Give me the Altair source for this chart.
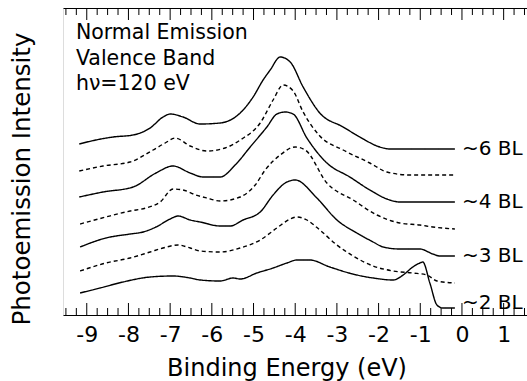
import altair as alt
import pandas as pd

FONT = "DejaVu Sans"

# ---- data (binding energy in eV, intensity in arbitrary units, offset per curve)
c1_e = [-9.18, -8.78, -8.37, -7.89, -7.48, -7.17, -7.00, -6.69, -6.28, -5.80, -5.32, -5.01, -4.77, -4.60, -4.36, -4.12, -3.81, -3.41, -2.85, -2.45, -1.97, -1.73, -0.17]
c1_i = [171, 175, 178, 180, 187, 198, 201, 198, 191, 192, 202, 218, 235, 245, 258, 253, 228, 202, 188, 178, 168, 166, 166]

c2_e = [-9.18, -8.61, -7.96, -7.41, -7.12, -6.88, -6.52, -6.12, -5.68, -5.32, -4.84, -4.53, -4.29, -4.05, -3.81, -3.41, -2.85, -2.21, -1.80, -1.25, -0.17]
c2_i = [144, 149, 153, 165, 172, 177, 169, 164, 167, 175, 192, 215, 230, 224, 203, 179, 165, 152, 143, 140, 140]

c3_e = [-9.18, -8.61, -7.89, -7.34, -6.93, -6.52, -6.21, -5.80, -5.44, -5.08, -4.68, -4.44, -4.24, -4.05, -3.72, -3.24, -2.69, -2.21, -1.80, -1.49, -0.17]
c3_i = [118, 123, 128, 142, 149, 142, 138, 138, 150, 168, 188, 201, 203, 201, 177, 152, 138, 125, 116, 113, 113]

c4_e = [-9.16, -8.54, -7.96, -7.58, -7.24, -6.93, -6.69, -6.38, -6.12, -5.80, -5.32, -4.96, -4.72, -4.36, -4.00, -3.76, -3.24, -2.61, -2.04, -1.49, -1.01, -0.70, -0.17]
c4_i = [91, 98, 104, 107, 113, 126, 125, 120, 117, 114, 118, 130, 145, 160, 168, 165, 132, 115, 100, 92, 90, 88, 86]

c5_e = [-9.16, -8.54, -7.96, -7.65, -7.34, -7.00, -6.81, -6.52, -6.28, -5.80, -5.56, -5.25, -4.84, -4.53, -4.24, -4.00, -3.48, -3.00, -2.52, -2.13, -1.89, -1.49, -1.01, -0.70, -0.53, -0.17]
c5_i = [68, 77, 81, 83, 88, 96, 99, 95, 93, 89, 89, 95, 103, 120, 132, 135, 117, 95, 82, 73, 68, 66, 66, 61, 59, 59]

c6_e = [-9.16, -8.54, -7.96, -7.48, -7.17, -6.81, -6.52, -6.28, -5.80, -5.32, -4.84, -4.44, -4.12, -3.96, -3.72, -3.41, -3.00, -2.61, -2.13, -1.65, -1.18, -0.84, -0.60, -0.17]
c6_i = [44, 52, 57, 63, 67, 70, 67, 64, 63, 67, 75, 87, 96, 98, 95, 85, 70, 59, 49, 44, 42, 40, 34, 32]

c7_e = [-9.16, -8.68, -8.13, -7.48, -6.93, -6.52, -6.28, -5.80, -5.49, -5.32, -4.92, -4.53, -4.20, -3.96, -3.65, -3.17, -2.52, -2.13, -1.65, -1.41, -1.18, -1.01, -0.94, -0.77, -0.60, -0.46, -0.17]
c7_i = [22, 27, 33, 38, 39, 37, 35, 34, 37, 36, 42, 47, 52, 55, 55, 48, 40, 37, 35, 40, 48, 52, 53, 32, 10, 7, 7]

curve_names = ["c1", "c2", "c3", "c4", "c5", "c6", "c7"]
curve_styles = ["solid", "dashed", "solid", "dashed", "solid", "dashed", "solid"]

bl_labels = ["~6 BL", "~4 BL", "~3 BL", "~2 BL"]
bl_label_e = [0.0, 0.0, 0.0, 0.0]
bl_label_i = [166, 113, 59, 12]

note_lines = ["Normal Emission", "Valence Band", "hν=120 eV"]
note_e = [-9.26, -9.26, -9.26]
note_i = [276, 250, 225]

y_title = ["Photoemission Intensity"]

major_ticks = [-9, -8, -7, -6, -5, -4, -3, -2, -1, 0, 1]
minor_ticks = [m / 4 for m in range(-38, 7) if m % 4 != 0]

# ---- tables
rows = []
for name, style, es, vs in zip(curve_names, curve_styles,
                               [c1_e, c2_e, c3_e, c4_e, c5_e, c6_e, c7_e],
                               [c1_i, c2_i, c3_i, c4_i, c5_i, c6_i, c7_i]):
    for e, v in zip(es, vs):
        rows.append({"curve": name, "style": style, "energy": e, "intensity": v})
df = pd.DataFrame(rows)

df_bl = pd.DataFrame({"label": bl_labels, "energy": bl_label_e, "intensity": bl_label_i})
df_note = pd.DataFrame({"label": note_lines, "energy": note_e, "intensity": note_i})
df_major = pd.DataFrame({"t": major_ticks})
df_minor = pd.DataFrame({"t": minor_ticks})
df_ytitle = pd.DataFrame({"label": y_title})

W, H = 464, 307
xscale = alt.Scale(domain=[-9.57, 1.56], nice=False, zero=False)
yscale = alt.Scale(domain=[0, 307], nice=False, zero=False)

x_bottom_axis = alt.Axis(
    orient="bottom", values=major_ticks, labelExpr="'' + datum.value",
    ticks=False, tickSize=0, grid=False, labelPadding=9, labelFontSize=22,
    labelFont=FONT, labelColor="black", domainColor="black", domainWidth=1,
    title="Binding Energy (eV)", titleFont=FONT, titleFontSize=24,
    titleFontWeight="normal", titleColor="black", titleX=223.5, titleY=60,
    titleBaseline="alphabetic", titleAlign="center", labelFlush=False,
)
x_top_axis = alt.Axis(orient="top", labels=False, ticks=False, grid=False, title=None,
                      domainColor="black", domainWidth=1)
y_axis = alt.Axis(
    orient="left", labels=False, ticks=False, tickSize=0, grid=False,
    domainColor="black", domainWidth=1, title=None,
)

lines = alt.Chart(df).mark_line(color="black", strokeWidth=1.4, interpolate="monotone").encode(
    x=alt.X("energy:Q", scale=xscale, axis=x_bottom_axis),
    y=alt.Y("intensity:Q", scale=yscale, axis=y_axis),
    detail="curve:N",
    strokeDash=alt.StrokeDash("style:N", scale=alt.Scale(domain=["solid", "dashed"], range=[[1, 0], [4, 3]]), legend=None),
)

top_major = alt.Chart(df_major).mark_rule(color="black", strokeWidth=1).encode(
    x=alt.X("t:Q", scale=xscale, axis=x_top_axis), y=alt.value(0), y2=alt.value(12))
top_minor = alt.Chart(df_minor).mark_rule(color="black", strokeWidth=1).encode(
    x=alt.X("t:Q", scale=xscale, axis=None), y=alt.value(0), y2=alt.value(7))
bot_major = alt.Chart(df_major).mark_rule(color="black", strokeWidth=1).encode(
    x=alt.X("t:Q", scale=xscale, axis=None), y=alt.value(H), y2=alt.value(H - 12))
bot_minor = alt.Chart(df_minor).mark_rule(color="black", strokeWidth=1).encode(
    x=alt.X("t:Q", scale=xscale, axis=None), y=alt.value(H), y2=alt.value(H - 7))

bl_text = alt.Chart(df_bl).mark_text(align="left", baseline="middle", font=FONT, fontSize=20,
                                      color="black").encode(
    x=alt.X("energy:Q", scale=xscale, axis=None),
    y=alt.Y("intensity:Q", scale=yscale, axis=None),
    text="label:N")

note_text = alt.Chart(df_note).mark_text(align="left", baseline="alphabetic", font=FONT, fontSize=20.5,
                                          color="black").encode(
    x=alt.X("energy:Q", scale=xscale, axis=None),
    y=alt.Y("intensity:Q", scale=yscale, axis=None),
    text="label:N")

ytitle_text = alt.Chart(df_ytitle).mark_text(
    align="center", baseline="alphabetic", angle=270, font=FONT, fontSize=24.5, color="black"
).encode(x=alt.value(-33), y=alt.value(171), text="label:N")

chart = alt.layer(lines, top_major, top_minor, bot_major, bot_minor, bl_text, note_text,
                  ytitle_text).resolve_axis(
    x="independent"
).properties(
    width=W, height=H,
    autosize=alt.AutoSizeParams(type="none"),
    padding={"left": 63, "top": 8, "right": 0, "bottom": 66},
).configure_view(stroke=None).configure(background="white")

chart.save("out.html", embed_options={"renderer": "svg", "actions": False})
